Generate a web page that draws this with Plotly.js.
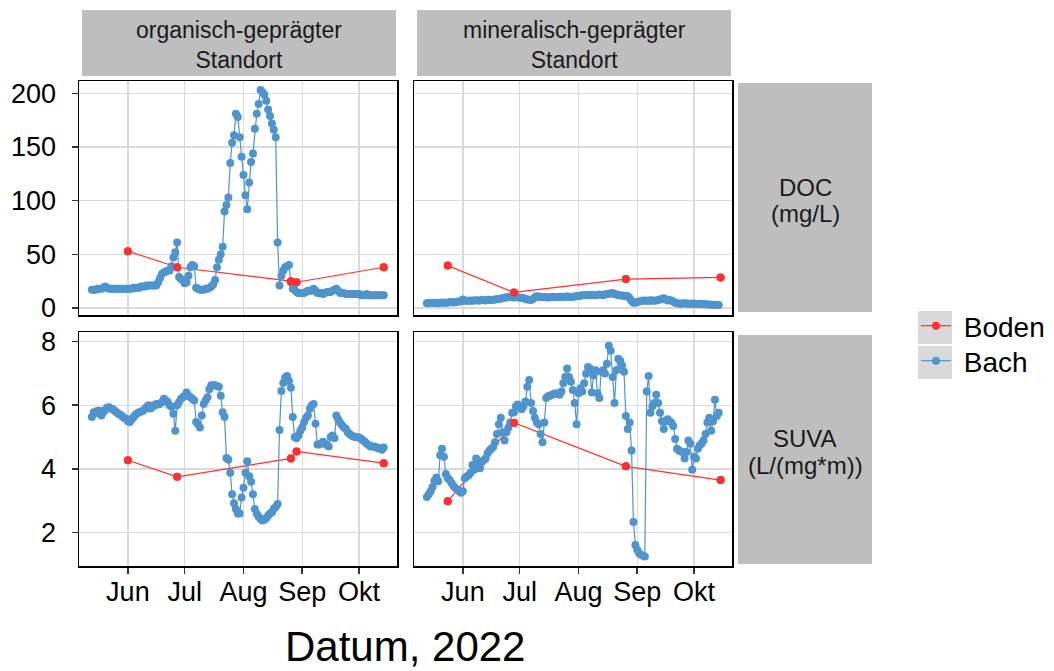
<!DOCTYPE html>
<html><head><meta charset="utf-8">
<script src="https://cdn.plot.ly/plotly-3.0.1.min.js"></script>
<style>html,body{margin:0;padding:0;background:#fff}#chart{width:1054px;height:671px}</style>
</head><body><div id="chart"></div>
<script>
// ---------- DATA ----------
const bachStart = '2022-05-13';   // daily stream samples from this date
const monthTicks = ['2022-06-01','2022-07-01','2022-08-01','2022-09-01','2022-10-01'];
const monthLabels = ['Jun','Jul','Aug','Sep','Okt'];
const sites = ['organisch-geprägter Standort','mineralisch-geprägter Standort'];
const series = ['Boden','Bach'];

const docBachOrg = [
 17,17,17,18,18,18,19,20,19,18,
 18,18,18,18,18,18,18,18,18,18,
 18,18,19,19,19,19,20,20,20,21,
 21,21,21,21,21,24,28,32,33,34,
 35,35,39,47,52,61,29,27,26,23,
 24,30,38,40,39,19,18,17,17,17,
 18,18,19,20,22,26,38,45,50,57,
 90,96,103,135,154,161,181,178,159,141,
 124,105,92,117,136,144,167,181,190,203,
 201,199,193,185,179,172,166,159,61,21,
 30,35,38,39,40,24,18,17,15,14,
 14,14,14,15,16,16,16,18,16,14,
 14,14,13,14,15,15,15,16,17,18,
 16,14,14,14,13,13,13,13,13,13,
 13,13,12,12,12,13,12,12,12,12,
 12,12,12,12,12];
const suvaBachOrg = [
 5.63,5.78,5.75,5.83,5.83,5.68,5.78,5.85,5.92,5.94,
 5.9,5.87,5.83,5.78,5.73,5.7,5.65,5.6,5.58,5.5,
 5.47,5.55,5.63,5.7,5.75,5.78,5.8,5.83,5.88,5.95,
 6.0,5.9,5.95,6.0,6.04,6.02,6.05,6.1,6.2,6.15,
 6.1,6.0,5.95,5.73,5.2,6.0,6.1,6.2,6.25,6.3,
 6.4,6.3,6.25,6.2,6.15,5.47,5.4,5.3,5.68,6.04,
 6.15,6.25,6.5,6.63,6.63,6.63,6.6,6.58,6.3,5.78,
 5.63,4.34,4.29,3.88,3.2,2.92,2.74,2.6,2.6,3.1,
 3.41,3.88,4.24,3.77,3.6,3.2,2.74,2.59,2.5,2.43,
 2.38,2.4,2.45,2.54,2.6,2.64,2.75,2.8,2.9,5.22,
 6.45,6.7,6.87,6.92,6.76,6.55,5.63,5.0,4.96,5.05,
 5.2,5.3,5.47,5.6,5.68,5.89,6.0,6.04,5.42,4.77,
 4.77,4.8,4.85,4.8,4.75,4.7,5.0,5.05,4.96,5.68,
 5.55,5.45,5.37,5.3,5.26,5.15,5.1,5.05,5.02,5.0,
 5.0,4.98,4.95,4.9,4.85,4.8,4.75,4.7,4.7,4.7,
 4.68,4.65,4.65,4.6,4.67];
const docBachMin = [
 4.5,4.6,4.7,5,4.8,4.7,4.5,4.8,5,5.2,
 4.9,5,5.3,5.5,5.2,5.4,5.8,6,6.2,8,
 7,6.5,6.8,7,6.8,7,7.2,6.9,7,7.4,
 7.2,7,7.6,7.8,7.5,7.8,8,8.2,8.5,8.8,
 9,9.5,10,10,10.2,10,9.8,10.3,10,9.6,
 9.5,9,8.6,8,7.8,7.5,8.5,10,11,10.5,
 10.5,10,10.2,10,9.8,10,10.3,10.5,10.2,10,
 10.4,10.6,10.3,10.5,10.8,10.5,10.2,10.6,10.8,11,
 11.2,11.5,11.8,12,12.2,11.8,12,12.4,12,11.8,
 12.2,12.5,12.3,12,12.6,13,13.2,13.5,14,13,
 12.5,12,11.8,11.5,11.5,11.5,11,9,6.5,4.8,
 5,5.5,6,6.5,7,6.8,7,6.5,7.2,7,
 6.8,7,7.5,8,8.5,9,8.2,7,7.5,7,
 6,5,4.5,4.2,4,4.2,4.5,4.3,4,4,
 4.2,4,3.8,3.8,4,3.7,3.5,3.5,3.3,3.2,
 3,3,2.9,2.8,2.8];
const suvaBachMin = [
 3.12,3.2,3.3,3.43,3.63,3.73,3.61,4.43,4.63,4.38,
 3.84,3.71,3.65,3.56,3.46,3.4,3.35,3.3,3.25,3.3,
 3.71,3.76,3.8,3.87,4.12,3.97,4.33,4.1,4.02,4.22,
 4.28,4.33,4.48,4.58,4.63,4.69,4.84,5.1,5.4,5.61,
 5.15,4.89,5.15,5.3,5.46,5.76,5.78,5.97,6.02,5.95,
 5.87,5.97,6.12,6.58,6.79,6.07,5.82,5.61,5.46,5.4,
 5.1,4.84,5.46,6.23,6.28,6.3,6.33,6.35,6.38,6.35,
 6.33,6.43,6.69,6.89,7.15,6.89,6.74,6.48,6.07,5.4,
 6.38,6.53,6.43,6.69,6.99,7.2,7.15,6.4,6.94,7.1,
 6.38,6.23,7.05,7.1,7.0,7.3,7.87,7.71,6.89,6.07,
 7.1,7.46,7.4,7.25,7.05,5.66,5.25,5.46,4.58,2.33,
 1.61,1.46,1.35,1.3,1.27,1.25,6.43,6.92,5.76,5.97,
 6.07,6.33,6.07,5.76,5.5,5.25,5.5,5.56,5.5,5.46,
 5.35,4.94,4.63,4.58,4.55,4.53,4.33,4.53,4.89,4.79,
 3.97,4.38,4.33,4.63,4.74,4.8,4.89,5.1,5.46,5.61,
 5.2,5.5,6.17,5.66,5.76];

const bodenDatesOrg = ['2022-06-01','2022-06-27','2022-08-26','2022-08-29','2022-10-14'];
const docBodenOrg  = [53, 38, 25, 24, 38];
const suvaBodenOrg = [4.27, 3.75, 4.33, 4.55, 4.18];
const bodenDatesMin = ['2022-05-24','2022-06-28','2022-08-26','2022-10-15'];
const docBodenMin  = [39.5, 14.5, 27, 28.5];
const suvaBodenMin = [2.98, 5.45, 4.08, 3.65];

// ---------- HELPERS ----------
function dailyDates(start, n) {
  const out = []; const t0 = Date.parse(start + 'T00:00:00Z');
  for (let i = 0; i < n; i++) out.push(new Date(t0 + i * 86400000).toISOString().slice(0, 10));
  return out;
}
const W = 1054, H = 671;
const px = x => x / W, py = y => 1 - y / H;
const RED = '#FF3030', BLUE = '#4F94CD';
const FONT = 'Arial, "Liberation Sans", sans-serif';

const bachDatesOrg = dailyDates(bachStart, docBachOrg.length);
const bachDatesMin = dailyDates(bachStart, docBachMin.length);

const panels = [
  {xa:'x',  ya:'y',  bx:bachDatesOrg, by:docBachOrg,  rx:bodenDatesOrg, ry:docBodenOrg,  leg:true},
  {xa:'x2', ya:'y2', bx:bachDatesMin, by:docBachMin,  rx:bodenDatesMin, ry:docBodenMin,  leg:false},
  {xa:'x3', ya:'y3', bx:bachDatesOrg, by:suvaBachOrg, rx:bodenDatesOrg, ry:suvaBodenOrg, leg:false},
  {xa:'x4', ya:'y4', bx:bachDatesMin, by:suvaBachMin, rx:bodenDatesMin, ry:suvaBodenMin, leg:false}
];
const NB = '\u00a0'; // small gap between legend key and label, as in the reference
const traces = [];
panels.forEach(p => {
  traces.push({x:p.rx, y:p.ry, xaxis:p.xa, yaxis:p.ya, type:'scatter', mode:'lines+markers', name:NB + series[0],
    legend:'legend', legendgroup:'boden', showlegend:p.leg, line:{color:RED, width:1.2}, marker:{color:RED, size:8}});
});
panels.forEach(p => {
  traces.push({x:p.bx, y:p.by, xaxis:p.xa, yaxis:p.ya, type:'scatter', mode:'lines+markers', name:NB + series[1],
    legend:'legend2', legendgroup:'bach', showlegend:p.leg, line:{color:BLUE, width:1.2}, marker:{color:BLUE, size:8}});
});
panels.forEach(p => {
  traces.push({x:p.rx, y:p.ry, xaxis:p.xa, yaxis:p.ya, type:'scatter', mode:'markers', name:series[0],
    legendgroup:'boden', showlegend:false, marker:{color:RED, size:8}, hoverinfo:'skip'});
});

const xRange = ['2022-05-06 05:00','2022-10-21 00:00'];
const colL = [px(79), px(397)], colR = [px(414), px(732)];
const rowT = [py(315), py(81)], rowB = [py(566), py(332)];

function xAxis(domain, anchor, labels) {
  return {domain, anchor, type:'date', range:xRange, tickvals:monthTicks, ticktext:monthLabels,
    showticklabels:labels, ticks:labels ? 'outside' : '', ticklen:6, tickwidth:1.5, tickcolor:'#333',
    tickfont:{size:27, color:'#000', family:FONT}, ticklabelstandoff:-5,
    showgrid:true, gridcolor:'#dadada', gridwidth:1.3, zeroline:false,
    showline:true, mirror:true, linecolor:'#000', linewidth:1.5, fixedrange:true};
}
function yAxis(domain, anchor, range, vals, labels) {
  return {domain, anchor, range, tickvals:vals, ticktext:vals.map(String),
    showticklabels:labels, ticks:labels ? 'outside' : '', ticklen:6, tickwidth:1.5, tickcolor:'#333',
    tickfont:{size:27, color:'#000', family:FONT}, ticklabelstandoff:10,
    showgrid:true, gridcolor:'#dadada', gridwidth:1.3, zeroline:false,
    showline:true, mirror:true, linecolor:'#000', linewidth:1.5, fixedrange:true};
}
const docRange = [-6.5, 211.5], suvaRange = [0.95, 8.3];
const docTicks = [0,50,100,150,200], suvaTicks = [2,4,6,8];

const STRIP = '#BEBEBE';
function rect(x0,y0,x1,y1){return {type:'rect', xref:'paper', yref:'paper', x0:px(x0), x1:px(x1), y0:py(y1), y1:py(y0), fillcolor:STRIP, line:{width:0}, layer:'below'};}
function keyRect(x0,y0,x1,y1){return {type:'rect', xref:'paper', yref:'paper', x0:px(x0), x1:px(x1), y0:py(y1), y1:py(y0), fillcolor:'#D9D9D9', line:{width:0}, layer:'below'};}
function label(text,x,y,size){return {text, xref:'paper', yref:'paper', x:px(x), y:py(y), xanchor:'center', yanchor:'middle', showarrow:false, font:{size, color:'#1a1a1a', family:FONT}};}
function legendBox(topY){return {x:px(916), y:py(topY), xanchor:'left', yanchor:'top', bgcolor:'rgba(0,0,0,0)', borderwidth:0,
    font:{size:28, color:'#000', family:FONT}, tracegroupgap:0};}

const stripLines = sites.map(s => s.split(' ').join('<br>'));
const layout = {
  width:W, height:H, margin:{l:0,r:0,t:0,b:0}, paper_bgcolor:'#fff', plot_bgcolor:'#fff',
  font:{family:FONT, color:'#000'},
  xaxis: xAxis(colL,'y',false), xaxis2: xAxis(colR,'y2',false),
  xaxis3: xAxis(colL,'y3',true), xaxis4: xAxis(colR,'y4',true),
  yaxis: yAxis(rowT,'x',docRange,docTicks,true), yaxis2: yAxis(rowT,'x2',docRange,docTicks,false),
  yaxis3: yAxis(rowB,'x3',suvaRange,suvaTicks,true), yaxis4: yAxis(rowB,'x4',suvaRange,suvaTicks,false),
  showlegend:true,
  legend: legendBox(301),
  legend2: legendBox(336),
  shapes:[rect(82,10,396,76), rect(417,10,731,76), rect(738,83,872,312), rect(738,335,872,564),
    keyRect(918,311,952,344), keyRect(918,346,952,379)],
  annotations:[
    label(stripLines[0],239,45,23),
    label(stripLines[1],574,45,23),
    label('DOC',805,188,24), label('(mg/L)',805,213,24),
    label('SUVA',805,438,24), label('(L/(mg*m))',805,465,24),
    {text:'Datum, 2022', xref:'paper', yref:'paper', x:px(405), y:py(646), xanchor:'center', yanchor:'middle',
     showarrow:false, font:{size:42, color:'#000', family:FONT}}
  ]
};
Plotly.newPlot('chart', traces, layout, {staticPlot:true, displayModeBar:false});
</script></body></html>
